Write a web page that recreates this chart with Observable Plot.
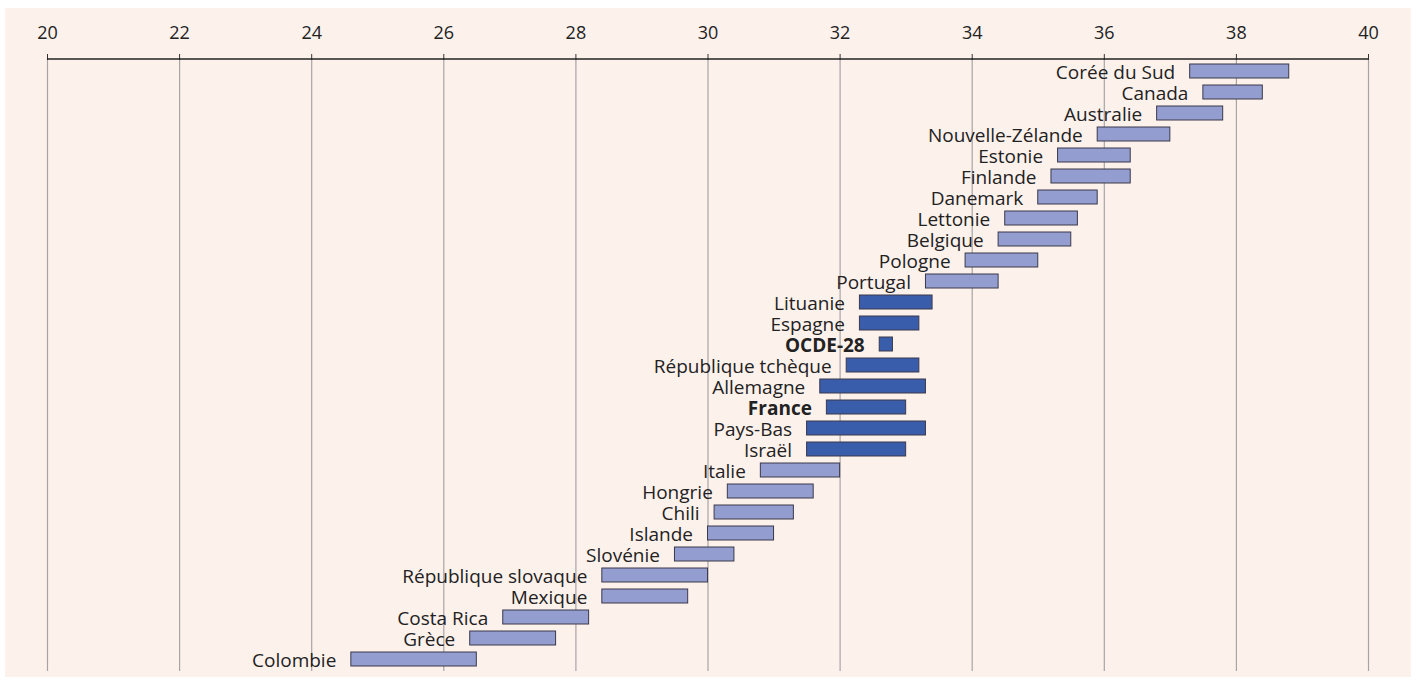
<!DOCTYPE html>
<html>
<head>
<meta charset="utf-8">
<script src="https://cdn.jsdelivr.net/npm/d3@7"></script>
<script src="https://cdn.jsdelivr.net/npm/@observablehq/plot@0.6"></script>
<style>
  html, body { margin: 0; padding: 0; background: #ffffff; }
  #panel { position: absolute; left: 5px; top: 8px; width: 1406px; height: 669px; background: #fdf1ec; }
  #panel svg { display: block; }
</style>
</head>
<body>
<div id="panel"></div>
<script>
const countries = ["Corée du Sud","Canada","Australie","Nouvelle-Zélande","Estonie","Finlande","Danemark","Lettonie","Belgique","Pologne","Portugal","Lituanie","Espagne","OCDE-28","République tchèque","Allemagne","France","Pays-Bas","Israël","Italie","Hongrie","Chili","Islande","Slovénie","République slovaque","Mexique","Costa Rica","Grèce","Colombie"];
const lowValues  = [37.3,37.5,36.8,35.9,35.3,35.2,35.0,34.5,34.4,33.9,33.3,32.3,32.3,32.6,32.1,31.7,31.8,31.5,31.5,30.8,30.3,30.1,30.0,29.5,28.4,28.4,26.9,26.4,24.6];
const highValues = [38.8,38.4,37.8,37.0,36.4,36.4,35.9,35.6,35.5,35.0,34.4,33.4,33.2,32.8,33.2,33.3,33.0,33.3,33.0,32.0,31.6,31.3,31.0,30.4,30.0,29.7,28.2,27.7,26.5];
const highlighted = ["Lituanie","Espagne","OCDE-28","République tchèque","Allemagne","France","Pays-Bas","Israël"];
const boldLabels = ["OCDE-28","France"];
const xTicks = [20,22,24,26,28,30,32,34,36,38,40];

const data = countries.map((c, i) => ({country: c, lo: lowValues[i], hi: highValues[i], dark: highlighted.includes(c), bold: boldLabels.includes(c)}));

const W = 1406, H = 669, mTop = 51, mBottom = 6, mLeft = 42, mRight = 43;
const font = "'Open Sans', Lato, sans-serif";

const plot = Plot.plot({
  width: W,
  height: H,
  marginTop: mTop,
  marginBottom: mBottom,
  marginLeft: mLeft,
  marginRight: mRight,
  style: {background: "transparent", fontFamily: font, color: "#222"},
  x: {domain: [20, 40], axis: null},
  y: {domain: countries, axis: null, paddingInner: 0.34, paddingOuter: 0.19},
  marks: [
    Plot.ruleX(xTicks, {stroke: "#a8a4a4", strokeWidth: 1.2, strokeOpacity: 1}),
    Plot.axisX(xTicks, {anchor: "top", tickSize: 6, tickPadding: 15, fontSize: 18, stroke: "#333", fill: "#222", tickFormat: d => String(d)}),
    Plot.barX(data, {x1: "lo", x2: "hi", y: "country", fill: d => d.dark ? "#3a5dab" : "#939dd0", stroke: "#3a3a4a", strokeWidth: 1}),
    Plot.text(data.filter(d => !d.bold), {x: "lo", y: "country", text: "country", textAnchor: "end", dx: -15, dy: 1, fontSize: 19, fill: "#222"}),
    Plot.text(data.filter(d => d.bold), {x: "lo", y: "country", text: "country", textAnchor: "end", dx: -15, dy: 1, fontSize: 19, fontWeight: "bold", fill: "#222"})
  ]
});

// top axis line drawn through the library's x scale
const xs = plot.scale("x");
d3.select(plot).append("line")
  .attr("x1", xs.apply(20)).attr("x2", xs.apply(40))
  .attr("y1", mTop).attr("y2", mTop)
  .attr("stroke", "#222").attr("stroke-width", 1.3);

document.getElementById("panel").appendChild(plot);
</script>
</body>
</html>
